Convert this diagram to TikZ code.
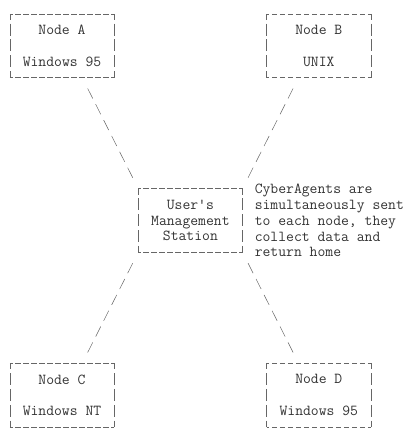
\documentclass[tikz,border=0pt]{standalone}
\usetikzlibrary{positioning}

\begin{document}
\begin{tikzpicture}
  [x=8pt,y=-15.85pt,node distance=110.95pt and 24pt,
   every node/.style={inner sep=0pt,text=black!80,font=\ttfamily\fontsize{15.24pt}{15.85pt}\selectfont},
   box/.style={rectangle,minimum width=104pt,minimum height=63.4pt,align=center},
   note/.style={align=left},
   rim/.style={draw=black!60,line width=0.5pt,dash pattern=on 5.5pt off 2.5pt,dash phase=2.75pt},
   wall/.style={draw=black!60,line width=0.5pt,dash pattern=on 12pt off 3.85pt,dash phase=6pt},
   link/.style={draw=black!60,line width=0.5pt,dash pattern=on 11.2pt off 6.55pt,shorten <=12.15pt,shorten >=12.15pt}]

  \useasboundingbox (-1.25,-0.883) rectangle (49.5,26.31);

  \node[box] (nodeA) at (6.5,2) {Node A\\[15.85pt]Windows 95};
  \node[box,below right=of nodeA] (station) {User's\\Management\\Station};
  \node[box,above right=of station] (nodeB) {Node B\\[15.85pt]UNIX};
  \node[box,below left=of station] (nodeC) {Node C\\[15.85pt]Windows NT};
  \node[box,below right=of station] (nodeD) {Node D\\[15.85pt]Windows 95};
  \node[note,right=12pt of station] (agents) {CyberAgents are\\simultaneously sent\\to each node, they\\collect data and\\return home};

  % box frames
  \foreach \n in {nodeA,nodeB,station,nodeC,nodeD} {
    \draw[rim] (\n.north west) -- (\n.north east) (\n.south west) -- (\n.south east);
    \draw[wall] (\n.north west) -- (\n.south west) (\n.north east) -- (\n.south east);
  }

  % the four links
  \draw[link] ([xshift=-32pt]nodeA.south east) -- (station.north west);
  \draw[link] ([xshift=32pt]nodeB.south west) -- (station.north east);
  \draw[link] (station.south west) -- ([xshift=-32pt]nodeC.north east);
  \draw[link] (station.south east) -- ([xshift=32pt]nodeD.north west);

\end{tikzpicture}
\end{document}
